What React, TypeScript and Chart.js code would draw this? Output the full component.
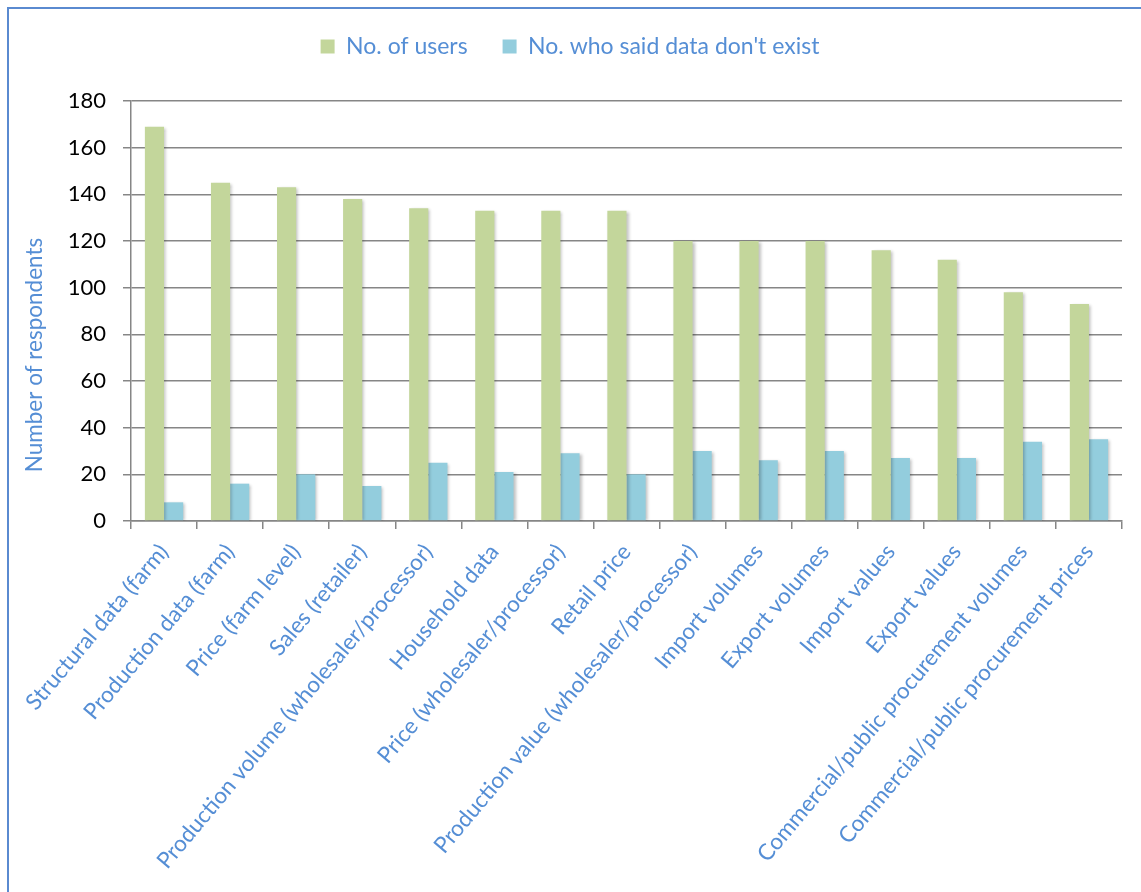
import React, { useEffect, useRef } from "react";
import { Chart, registerables } from "chart.js";

Chart.register(...registerables);

const categories = [
  "Structural data (farm)",
  "Production data (farm)",
  "Price (farm level)",
  "Sales (retailer)",
  "Production volume (wholesaler/processor)",
  "Household data",
  "Price (wholesaler/processor)",
  "Retail price",
  "Production value (wholesaler/processor)",
  "Import volumes",
  "Export volumes",
  "Import values",
  "Export values",
  "Commercial/public procurement volumes",
  "Commercial/public procurement prices",
];

const usersValues = [169, 145, 143, 138, 134, 133, 133, 133, 120, 120, 120, 116, 112, 98, 93];
const notExistValues = [8, 16, 20, 15, 25, 21, 29, 20, 30, 26, 30, 27, 27, 34, 35];
const yTickValues = [0, 20, 40, 60, 80, 100, 120, 140, 160, 180];

const seriesNames = ["No. of users", "No. who said data don't exist"];
const yTitle = "Number of respondents";

const GREEN = "#C3D69B";
const BLUE = "#93CDDD";
const TEXT_BLUE = "#558ED5";
const GRID = "#868686";
const FONT = "Lato";

export default function App() {
  const ref = useRef<HTMLCanvasElement | null>(null);

  useEffect(() => {
    if (!ref.current) return;
    const framePlugin = {
      id: "frame",
      beforeLayout(chart: any) {
        const lg = chart.legend;
        if (lg && !lg.__patched) {
          const orig = lg.fit.bind(lg);
          lg.fit = function () {
            orig();
            this.height = 101;
          };
          lg.__patched = true;
        }
      },
      beforeDatasetsDraw(chart: any) {
        const ctx = chart.ctx;
        ctx.save();
        ctx.shadowColor = "rgba(0,0,0,0.25)";
        ctx.shadowBlur = 3;
        ctx.shadowOffsetX = 2;
        ctx.shadowOffsetY = 1;
      },
      afterDatasetsDraw(chart: any) {
        chart.ctx.restore();
      },
      afterDraw(chart: any) {
        const ctx = chart.ctx;
        ctx.save();
        // y-axis title (offset below centre as in the original)
        ctx.translate(35, 355);
        ctx.rotate(-Math.PI / 2);
        ctx.fillStyle = TEXT_BLUE;
        ctx.font = `22.5px ${FONT}`;
        ctx.textAlign = "center";
        ctx.textBaseline = "middle";
        ctx.fillText(yTitle, 0, 0);
        ctx.restore();
        ctx.save();
        ctx.fillStyle = "#5A8AD0";
        ctx.fillRect(7, 7, 2, chart.height);
        ctx.fillRect(7, 7, chart.width, 2);
        ctx.restore();
      },
    };

    const chart = new Chart(ref.current, {
      type: "bar",
      data: {
        labels: categories,
        datasets: [
          {
            label: seriesNames[0],
            data: usersValues,
            backgroundColor: GREEN,
            barPercentage: 1,
            categoryPercentage: 0.58,
          },
          {
            label: seriesNames[1],
            data: notExistValues,
            backgroundColor: BLUE,
            barPercentage: 1,
            categoryPercentage: 0.58,
          },
        ],
      },
      options: {
        responsive: false,
        animation: false,
        layout: { padding: { left: 18, right: 19, top: 0, bottom: 0 } },
        plugins: {
          tooltip: { enabled: false },
          legend: {
            position: "top",
            labels: {
              boxWidth: 14,
              boxHeight: 14,
              padding: 35,
              color: TEXT_BLUE,
              font: { family: FONT, size: 23, lineHeight: 1 },
            },
          },
        },
        scales: {
          x: {
            grid: {
              display: true,
              drawOnChartArea: false,
              drawTicks: true,
              tickLength: 8,
              color: GRID,
              lineWidth: 1.5,
              offset: true,
            },
            border: { color: GRID, width: 1.5 },
            ticks: {
              color: TEXT_BLUE,
              font: { family: FONT, size: 22.5 },
              maxRotation: 50,
              minRotation: 50,
              autoSkip: false,
              padding: 10,
            },
            afterFit(scale: any) {
              scale.height = 371;
            },
          },
          y: {
            min: 0,
            max: 180,
            afterBuildTicks(scale: any) {
              scale.ticks = yTickValues.map((v) => ({ value: v }));
            },
            ticks: {
              color: "#000",
              font: { family: FONT, size: 22 },
              padding: 17,
            },
            grid: { color: GRID, lineWidth: 1.5, tickLength: 8 },
            border: { color: GRID, width: 1.5 },
            title: { display: false, text: yTitle },
            afterFit(scale: any) {
              scale.width = 113;
            },
          },
        },
      },
      plugins: [framePlugin],
    });
    return () => chart.destroy();
  }, []);

  return (
    <div style={{ position: "absolute", left: 0, top: 0, width: 1141, height: 892, background: "#fff" }}>
      <canvas ref={ref} width={1141} height={892} style={{ display: "block" }} />
    </div>
  );
}
